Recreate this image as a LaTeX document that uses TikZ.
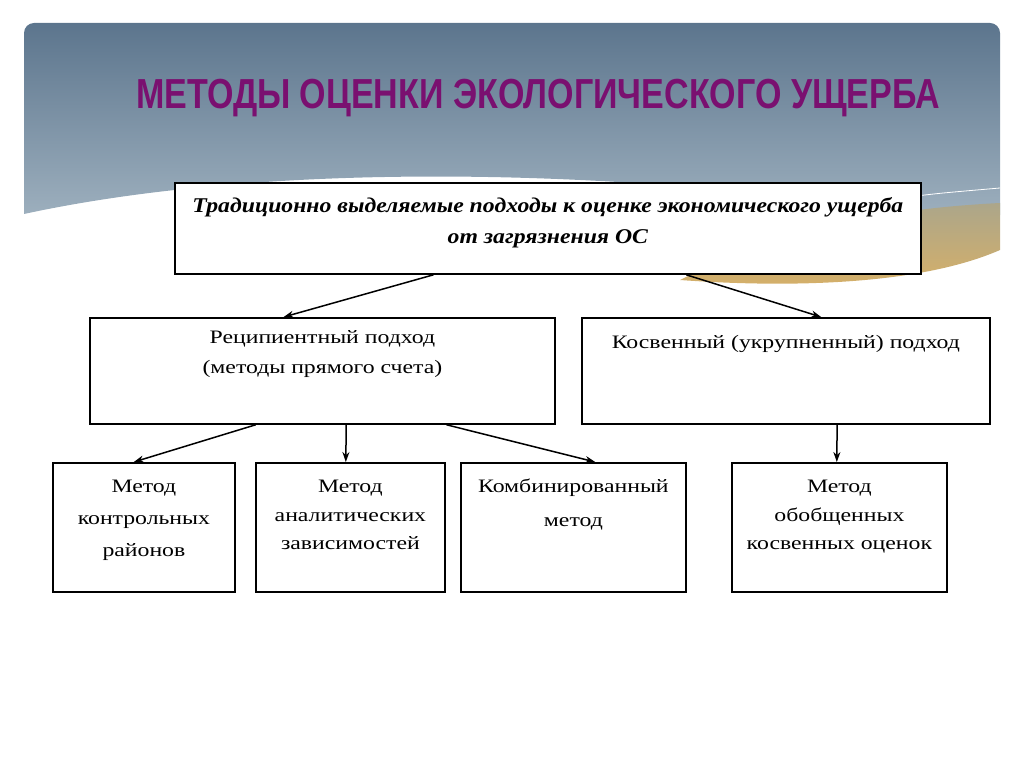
\documentclass[tikz,border=0pt]{standalone}
\usepackage{fontspec}
\setmainfont{Liberation Serif}
\newfontfamily\titlefont[FakeStretch=0.81]{Liberation Sans}
\newfontfamily\headfont[FakeStretch=1.13]{Liberation Serif}
\newfontfamily\boxfont[FakeStretch=1.25]{Liberation Serif}
\usetikzlibrary{arrows.meta,calc}
\definecolor{bgtop}{RGB}{92,117,141}
\definecolor{bgbot}{RGB}{160,178,192}
\definecolor{sandtop}{RGB}{172,166,138}
\definecolor{sandbot}{RGB}{214,176,104}
\definecolor{titlecol}{RGB}{122,16,112}
\newcommand{\boxlines}[5]{\parbox[c][#1][t]{#2}{\centering\baselineskip=#4\rule{0pt}{#3}#5}}

\begin{document}
\begin{tikzpicture}[x=1pt,y=-1pt,
  box/.style={draw, line width=1.8pt, fill=white, anchor=north west, inner sep=0pt,
    font=\boxfont\fontsize{19}{21}\selectfont},
  link/.style={line width=1.5pt, -{Stealth[length=10pt,width=7pt]}}]
\useasboundingbox (0,0) rectangle (1024,767);
\shade[top color=bgtop, bottom color=bgbot] (24,214) [rounded corners=10pt]-- (24,23) -- (1000,23) -- (1000,225) [sharp corners] .. controls (600,160) and (250,165) .. cycle;
\shade[top color=sandtop, bottom color=sandbot] (1000,203) -- (1000,250) .. controls (920,285) and (790,288) .. (680,280) .. controls (790,225) and (900,208) .. cycle;
\draw[white, line width=0.8pt] (880,201) .. controls (930,194) .. (1000,188);

\node[font=\titlefont\bfseries\fontsize{42}{48}\selectfont, text=titlecol] (title) at (538,98) {МЕТОДЫ ОЦЕНКИ ЭКОЛОГИЧЕСКОГО УЩЕРБА};

\node[box, font=\headfont\bfseries\itshape\fontsize{21}{24}\selectfont] (head) at (174,182)
  {\boxlines{91pt}{746pt}{30pt}{31pt}{Традиционно выделяемые подходы к оценке экономического ущерба\\от загрязнения ОС}};
\node[box] (rec) at (89,317) {\boxlines{106pt}{465pt}{26pt}{30pt}{Реципиентный подход\\(методы прямого счета)}};
\node[box] (kos) at (581,317) {\boxlines{106pt}{408pt}{31pt}{30pt}{Косвенный (укрупненный) подход}};
\node[box] (m1) at (52,462) {\boxlines{129pt}{182pt}{30pt}{32pt}{Метод\\контрольных\\районов}};
\node[box] (m2) at (255,462) {\boxlines{129pt}{189pt}{30pt}{28.5pt}{Метод\\аналитических\\зависимостей}};
\node[box] (m3) at (460,462) {\boxlines{129pt}{225pt}{30pt}{34pt}{Комбинированный\\метод}};
\node[box] (m4) at (731,462) {\boxlines{129pt}{215pt}{30pt}{28.5pt}{Метод\\обобщенных\\косвенных оценок}};

\draw[link] ($(head.south west)!0.347!(head.south east)$) -- ($(rec.north west)!0.417!(rec.north east)$);
\draw[link] ($(head.south west)!0.685!(head.south east)$) -- ($(kos.north west)!0.586!(kos.north east)$);
\draw[link] ($(rec.south west)!0.357!(rec.south east)$) -- ($(m1.north west)!0.445!(m1.north east)$);
\draw[link] ($(rec.south west)!0.551!(rec.south east)$) -- ($(m2.north west)!0.476!(m2.north east)$);
\draw[link] ($(rec.south west)!0.766!(rec.south east)$) -- ($(m3.north west)!0.596!(m3.north east)$);
\draw[link] ($(kos.south west)!0.625!(kos.south east)$) -- ($(m4.north west)!0.488!(m4.north east)$);
\end{tikzpicture}
\end{document}
